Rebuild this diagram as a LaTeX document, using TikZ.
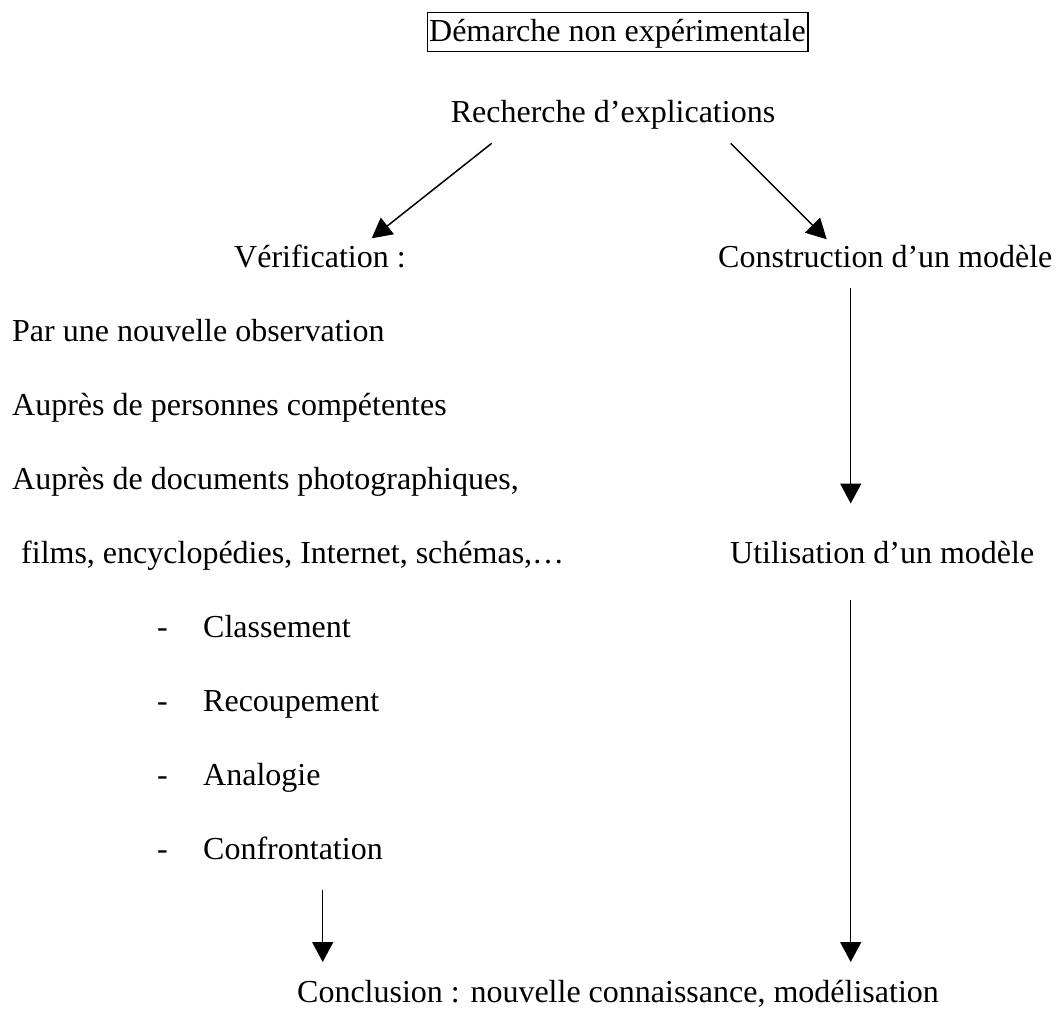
\documentclass[tikz,border=0pt]{standalone}
\usepackage{fontspec}
\setmainfont{Liberation Serif}
\usetikzlibrary{arrows.meta}
\begin{document}
\begin{tikzpicture}[x=1pt,y=-1pt,
  lbl/.style={inner sep=0pt, font=\fontsize{32}{38}\selectfont},
  framed/.style={lbl, draw, line width=1.3pt, inner xsep=2pt, inner ysep=0pt,
    text height=29pt, text depth=10pt},
  flow/.style={line width=1.5pt, -{Triangle[width=21pt,length=20pt]}},
]
\useasboundingbox (0,0) rectangle (1056,1009);

% heading and the question it leads to
\node[framed, anchor=base] (title) at (617.5,41.7) {Démarche non expérimentale};
\node[lbl, anchor=base] (rech) at (613,122) {Recherche d’explications};

% the two branches
\node[lbl, anchor=base west] (verif) at (234,267) {Vérification :};
\node[lbl, anchor=base west] (constr) at (718,267) {Construction d’un modèle};

% left branch: ways of checking
\node[lbl, anchor=base west] (obs)   at (12,341) {Par une nouvelle observation};
\node[lbl, anchor=base west] (pers)  at (12,415) {Auprès de personnes compétentes};
\node[lbl, anchor=base west] (docs)  at (12,489) {Auprès de documents photographiques,};
\node[lbl, anchor=base west] (films) at (21,563) {films, encyclopédies, Internet, schémas,…};

% left branch: operations
\foreach \i/\t [count=\k] in {637/Classement, 711/Recoupement, 785/Analogie, 859/Confrontation}{
  \node[lbl, anchor=base west] (dash\k) at (157,\i) {-};
  \node[lbl, anchor=base west] (item\k) at (203,\i) {\t};
}

% right branch
\node[lbl, anchor=base west] (util) at (730,563) {Utilisation d’un modèle};

% common outcome
\node[lbl, anchor=base] (concl) at (618,1002) {Conclusion : nouvelle connaissance, modélisation};

% connector end points
\coordinate (rechL) at (491.7,143.3);
\coordinate (verifT) at (371.7,238.3);
\coordinate (rechR) at (730.7,143.3);
\coordinate (constrT) at (826.7,239.3);
\coordinate (constrB) at (850.7,288);
\coordinate (utilT) at (850.7,503.5);
\coordinate (utilB) at (850.7,600);
\coordinate (conclR) at (850.7,962);
\coordinate (item4B) at (322.7,890);
\coordinate (conclL) at (322.7,962);

\draw[flow] (rechL) -- (verifT);
\draw[flow] (rechR) -- (constrT);
\draw[flow] (constrB) -- (utilT);
\draw[flow] (utilB) -- (conclR);
\draw[flow] (item4B) -- (conclL);
\end{tikzpicture}
\end{document}
